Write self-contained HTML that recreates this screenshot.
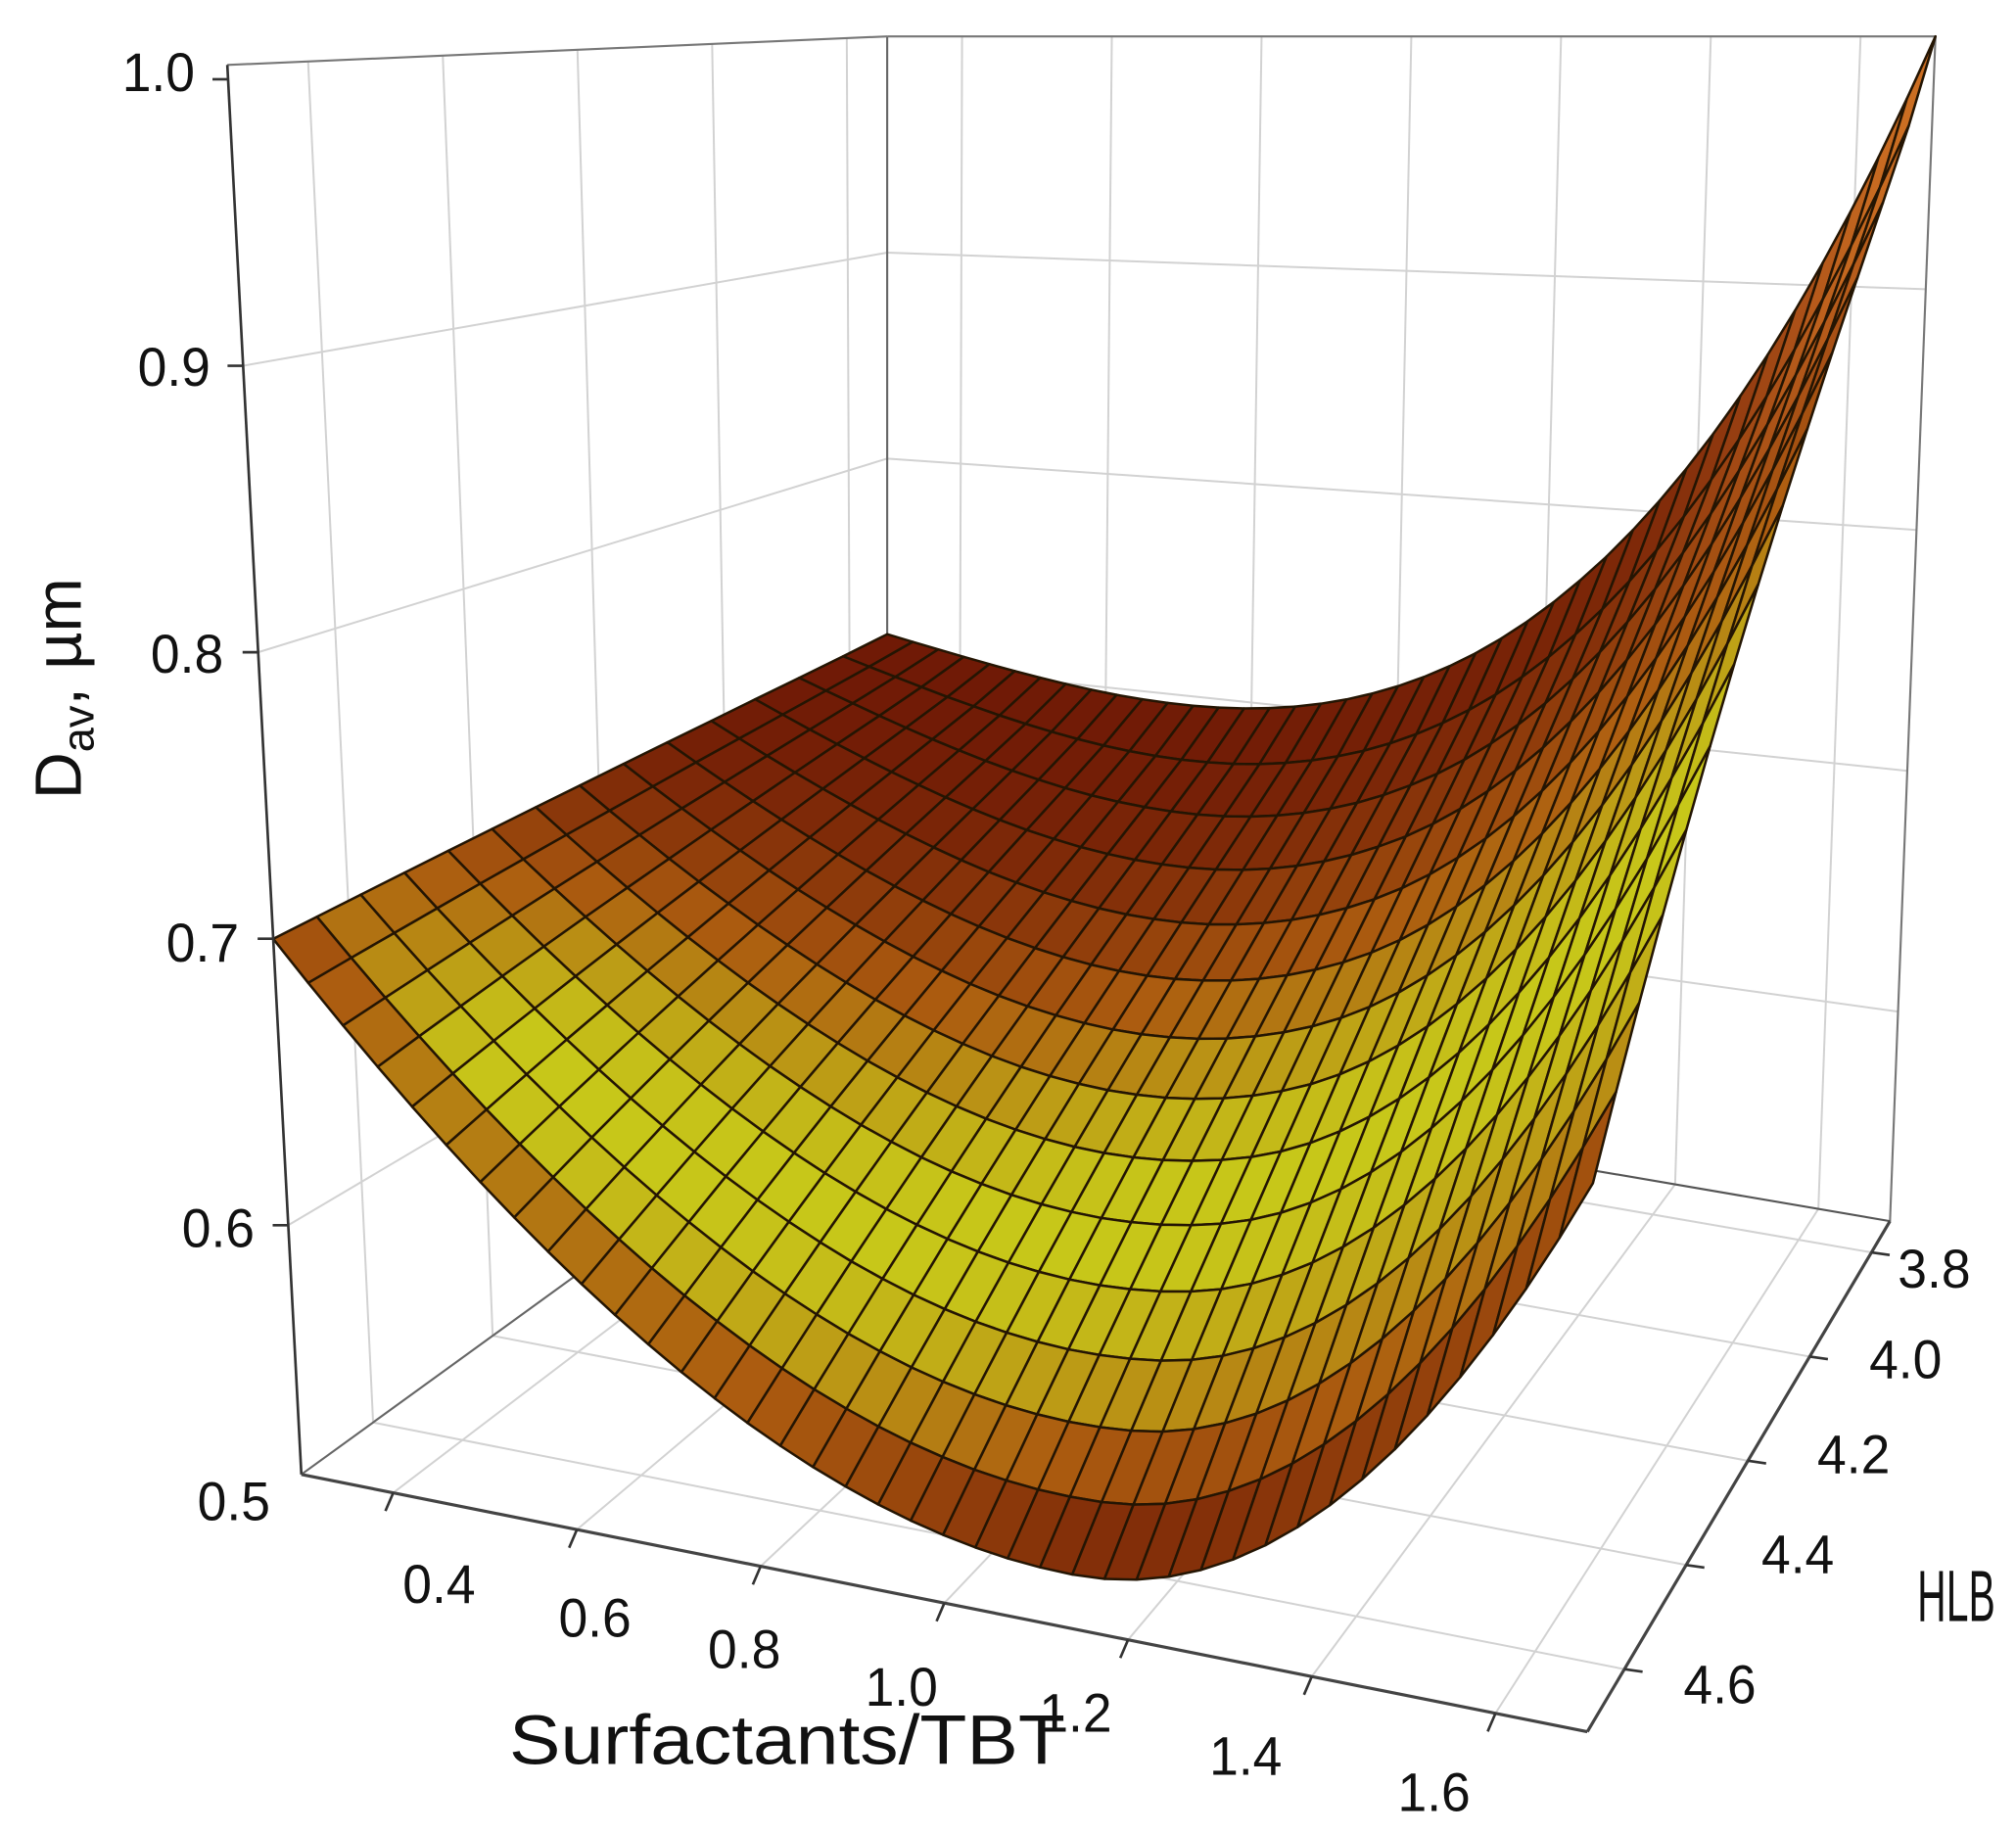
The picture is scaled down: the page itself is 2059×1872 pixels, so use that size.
<!DOCTYPE html>
<html><head><meta charset="utf-8"><style>
html,body{margin:0;padding:0;background:#fff;}
svg{display:block;}
text{font-family:"Liberation Sans",sans-serif;fill:#111;}
</style></head><body>
<svg id="s" width="2059" height="1872" viewBox="0 0 1552 1411" preserveAspectRatio="none" xmlns="http://www.w3.org/2000/svg">
<g id="walls"></g>
<g id="surf"></g>
<g id="axes"></g>
<g font-size="42">
<text x="150" y="70" text-anchor="end" textLength="56" lengthAdjust="spacingAndGlyphs">1.0</text>
<text x="162" y="297" text-anchor="end" textLength="56" lengthAdjust="spacingAndGlyphs">0.9</text>
<text x="172" y="518" text-anchor="end" textLength="56" lengthAdjust="spacingAndGlyphs">0.8</text>
<text x="184" y="740" text-anchor="end" textLength="56" lengthAdjust="spacingAndGlyphs">0.7</text>
<text x="196" y="960" text-anchor="end" textLength="56" lengthAdjust="spacingAndGlyphs">0.6</text>
<text x="208" y="1170" text-anchor="end" textLength="56" lengthAdjust="spacingAndGlyphs">0.5</text>
<text x="310" y="1234" textLength="56" lengthAdjust="spacingAndGlyphs">0.4</text>
<text x="430" y="1260" textLength="56" lengthAdjust="spacingAndGlyphs">0.6</text>
<text x="545" y="1284" textLength="56" lengthAdjust="spacingAndGlyphs">0.8</text>
<text x="666" y="1313" textLength="56" lengthAdjust="spacingAndGlyphs">1.0</text>
<text x="800" y="1333" textLength="56" lengthAdjust="spacingAndGlyphs">1.2</text>
<text x="931" y="1366" textLength="56" lengthAdjust="spacingAndGlyphs">1.4</text>
<text x="1076" y="1394" textLength="56" lengthAdjust="spacingAndGlyphs">1.6</text>
<text x="1461" y="991" textLength="56" lengthAdjust="spacingAndGlyphs">3.8</text>
<text x="1439" y="1061" textLength="56" lengthAdjust="spacingAndGlyphs">4.0</text>
<text x="1399" y="1134" textLength="56" lengthAdjust="spacingAndGlyphs">4.2</text>
<text x="1356" y="1211" textLength="56" lengthAdjust="spacingAndGlyphs">4.4</text>
<text x="1296" y="1311" textLength="56" lengthAdjust="spacingAndGlyphs">4.6</text>
</g>
<text x="1476" y="1248" font-size="56" textLength="60" lengthAdjust="spacingAndGlyphs">HLB</text>
<text x="392" y="1358" font-size="54" textLength="428" lengthAdjust="spacingAndGlyphs">Surfactants/TBT</text>
<text transform="translate(62,530) rotate(-90)" font-size="50" text-anchor="middle">D<tspan font-size="34" dy="10">av</tspan><tspan dy="-10">, µm</tspan></text>
</svg>
<script>
var A=[232,1135],B=[683,808],C=[1455,940],D=[1222,1333];
var A2=[175,50],B2=[683,28],C2=[1490,28],D2=[1235,65];
function bl(p00,p10,p11,p01,u,w){return [
 (1-u)*(1-w)*p00[0]+u*(1-w)*p10[0]+u*w*p11[0]+(1-u)*w*p01[0],
 (1-u)*(1-w)*p00[1]+u*(1-w)*p10[1]+u*w*p11[1]+(1-u)*w*p01[1]];}
function P(u,w,t){var f=bl(B,C,D,A,u,w),g=bl(B2,C2,D2,A2,u,w);return [f[0]+(g[0]-f[0])*t,f[1]+(g[1]-f[1])*t];}
function f0(u){return 0.41-0.2*u+0.79*Math.pow(u,3);}
function f1(u){if(u<0.6){var a=(u-0.6)/0.6;return 0.035+0.345*a*a;}var b=(u-0.6)/0.4;return 0.035+0.298*b*b;}
function T(u,w){var ww=Math.pow(w,0.85);return (1-ww)*f0(u)+ww*f1(u);}
function pt(p){return p[0].toFixed(1)+","+p[1].toFixed(1);}
var ns="http://www.w3.org/2000/svg";
function line(g,p,q,c,wd){var l=document.createElementNS(ns,"line");l.setAttribute("x1",p[0]);l.setAttribute("y1",p[1]);l.setAttribute("x2",q[0]);l.setAttribute("y2",q[1]);l.setAttribute("stroke",c);l.setAttribute("stroke-width",wd);g.appendChild(l);}
var W=document.getElementById("walls"),S=document.getElementById("surf"),X=document.getElementById("axes");
var gc="#d2d2d2";
function uOf(x){return (x-0.3)/1.4;}
function wOf(h){return (h-3.74)/0.98;}
function tOf(z){return (z-0.513)/0.492;}
var xt=[0.4,0.6,0.8,1.0,1.2,1.4,1.6],ht=[3.8,4.0,4.2,4.4,4.6],zt=[0.6,0.7,0.8,0.9];
xt.forEach(function(x){var u=uOf(x);line(W,P(u,0,0),P(u,1,0),gc,1.5);line(W,P(u,0,0),P(u,0,1),gc,1.5);});
ht.forEach(function(h){var w=wOf(h);line(W,P(0,w,0),P(1,w,0),gc,1.5);line(W,P(0,w,0),P(0,w,1),gc,1.5);});
zt.forEach(function(z){var t=tOf(z);line(W,P(0,1,t),P(0,0,t),gc,1.5);line(W,P(0,0,t),P(1,0,t),gc,1.5);});
line(W,B,B2,"#666",1.6);line(W,C,C2,"#777",1.6);line(W,A2,B2,"#777",1.6);line(W,B2,C2,"#777",1.6);
line(W,A,B,"#666",1.6);line(W,B,C,"#555",1.6);
line(X,A,A2,"#333",2);line(X,A,D,"#444",2.4);line(X,D,C,"#444",2.4);
zt.concat([1.0]).forEach(function(z){var p=P(0,1,tOf(z));line(X,p,[p[0]-12,p[1]],"#333",2);});
xt.forEach(function(x){var p=P(uOf(x),1,0);line(X,p,[p[0]-6,p[1]+14],"#333",2);});
ht.forEach(function(h){var p=P(1,wOf(h),0);line(X,p,[p[0]+14,p[1]+2],"#333",2);});
var NU=40,NW=14;
function wc(u){var pts=[[0,0.9],[0.3,0.76],[0.5,0.66],[0.7,0.6],[0.85,0.62],[1,0.7]];
 for(var i=0;i<pts.length-1;i++){if(u<=pts[i+1][0]){var k=(u-pts[i][0])/(pts[i+1][0]-pts[i][0]);return pts[i][1]+(pts[i+1][1]-pts[i][1])*k;}}return 0.7;}
function col(u,w){
 var b=Math.exp(-Math.pow((w-wc(u))/0.36,2));
 b*=1-0.45*Math.max(0,1-u/0.1);
 b*=1-0.6*Math.exp(-Math.pow((u-0.62)/0.14,2))*Math.max(0,(w-0.82)/0.18);
 b*=1-0.4*Math.max(0,(w-0.9)/0.1);
 var o=Math.exp(-Math.pow((u-1)/0.16,2))*Math.exp(-Math.pow((w-0.05)/0.22,2));
 var d=[112,26,6],m=[172,92,16],y=[200,200,26],c;
 if(b<0.5){var k=b/0.5;c=[d[0]+(m[0]-d[0])*k,d[1]+(m[1]-d[1])*k,d[2]+(m[2]-d[2])*k];}
 else{var k=(b-0.5)/0.5;c=[m[0]+(y[0]-m[0])*k,m[1]+(y[1]-m[1])*k,m[2]+(y[2]-m[2])*k];}
 var oc=[220,125,40];c=[c[0]+(oc[0]-c[0])*o*0.85,c[1]+(oc[1]-c[1])*o*0.85,c[2]+(oc[2]-c[2])*o*0.85];
 return "rgb("+(c[0]|0)+","+(c[1]|0)+","+(c[2]|0)+")";}
var html="";
for(var j=0;j<NW;j++){for(var i=0;i<NU;i++){
 var u0=i/NU,u1=(i+1)/NU,w0=j/NW,w1=(j+1)/NW;
 var p=[P(u0,w0,T(u0,w0)),P(u1,w0,T(u1,w0)),P(u1,w1,T(u1,w1)),P(u0,w1,T(u0,w1))];
 html+='<polygon points="'+p.map(pt).join(" ")+'" fill="'+col((u0+u1)/2,(w0+w1)/2)+'" stroke="#241503" stroke-width="1.9" stroke-linejoin="round"/>';
}}
S.innerHTML=html;
</script>
</body></html>
